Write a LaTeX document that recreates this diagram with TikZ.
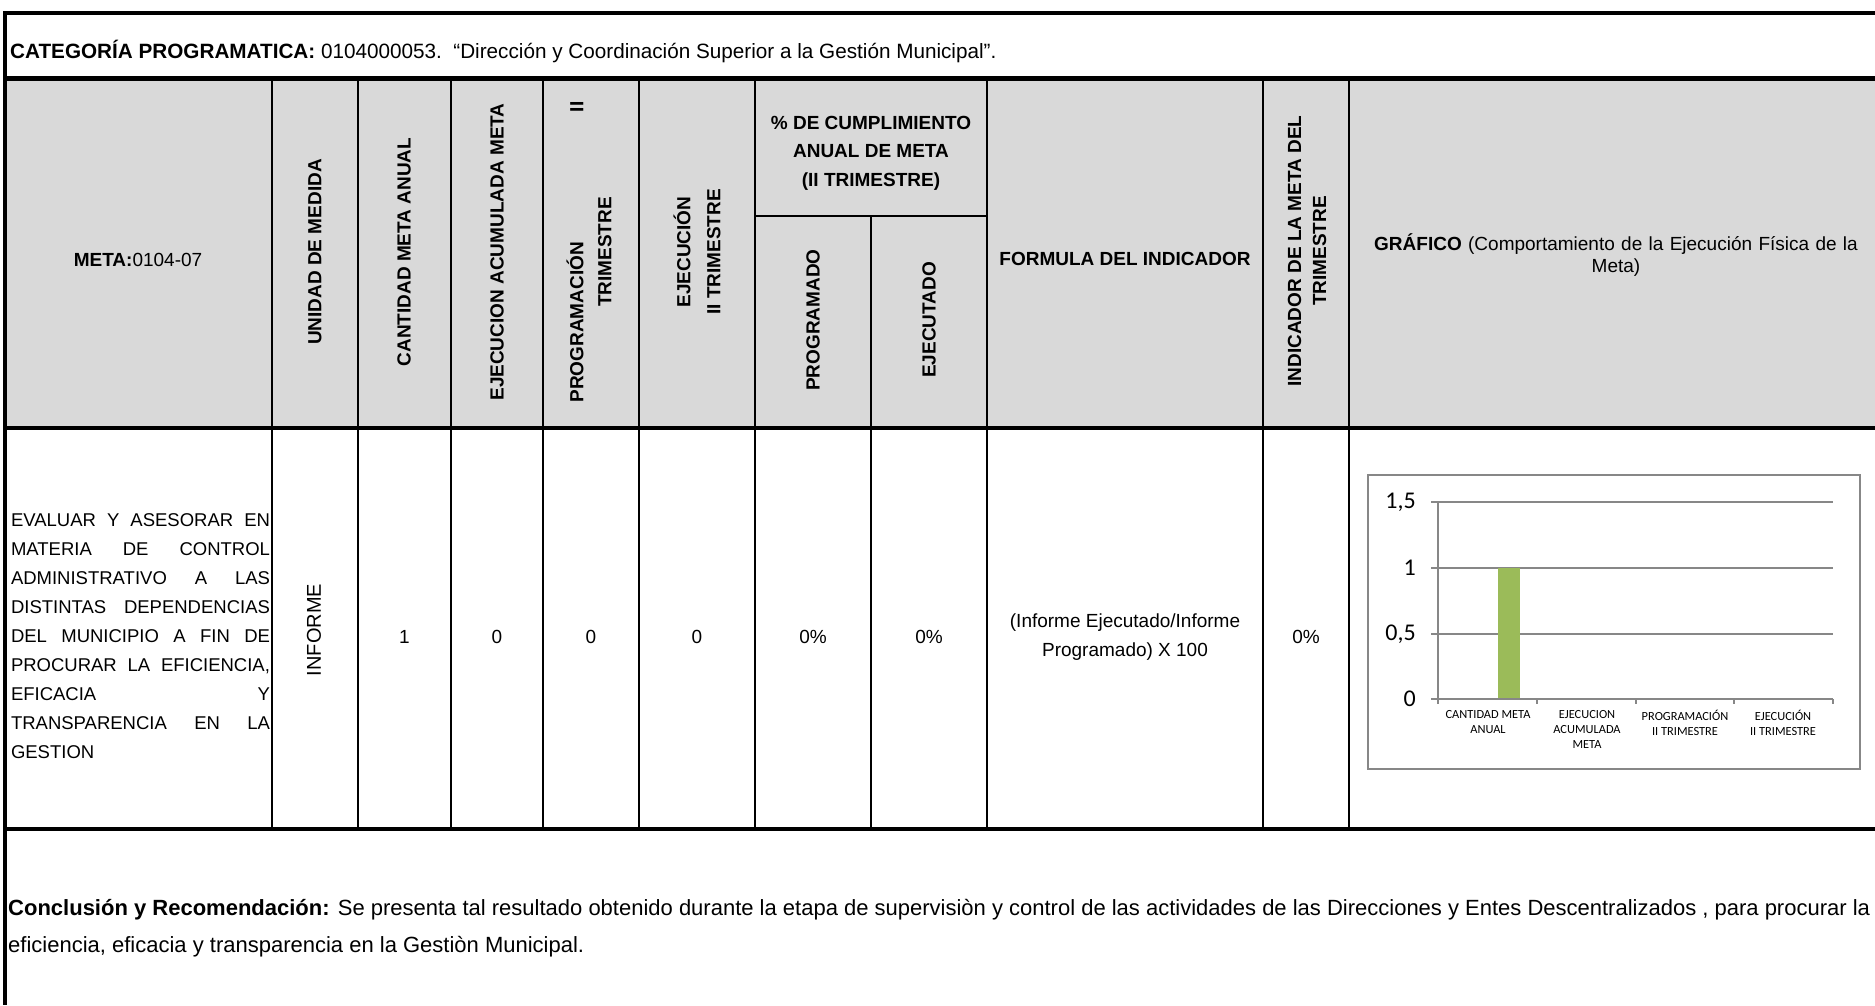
\documentclass[tikz,border=0pt]{standalone}
\usepackage{fontspec}
\setmainfont{Liberation Sans}
\newfontfamily\chartfont{Carlito}
\definecolor{hdrgray}{HTML}{D9D9D9}
\definecolor{chartgray}{HTML}{878787}
\definecolor{bargreen}{HTML}{9BBB59}
\tikzset{
  frameline/.style={line width=4.5pt},
  cellline/.style={line width=2pt},
  hdrtxt/.style={font=\bfseries\fontsize{19}{28.5}\selectfont, inner sep=0pt, align=center},
  rothdr/.style={hdrtxt, rotate=90},
  valtxt/.style={font=\fontsize{19}{29}\selectfont, inner sep=0pt, align=center},
  gridln/.style={draw=chartgray, line width=1.4pt},
  ylab/.style={font=\chartfont\fontsize{24}{24}\selectfont, anchor=east, inner sep=0pt},
  xlab/.style={font=\chartfont\fontsize{12.4}{15.3}\selectfont, align=center, inner sep=0pt, anchor=north},
  conc/.style={font=\fontsize{22}{30}\selectfont, anchor=west, inner sep=0pt},
}
\begin{document}
\begin{tikzpicture}[x=1pt,y=-1pt]
\useasboundingbox (0,0) rectangle (1875,1005);
\fill[white] (0,0) rectangle (1875,1005);
% header fill
\fill[hdrgray] (5,80) rectangle (1875,428);

% vertical cell lines
\foreach \cx in {272,358,451,543,639,755,987,1263,1349}
  \draw[cellline] (\cx,80) -- (\cx,829);
\draw[cellline] (871,216) -- (871,829);
\draw[cellline] (755,216) -- (987,216);

% thick frame lines
\draw[frameline] (3,13) -- (1875,13);
\draw[frameline] (3,78.5) -- (1875,78.5);
\draw[frameline] (3,428) -- (1875,428);
\draw[frameline] (3,829) -- (1875,829);
\draw[frameline] (5,11) -- (5,1005);

% category row
\node[font=\fontsize{20.7}{22}\selectfont, anchor=west, inner sep=0pt] (cat) at (10,51)
  {\textbf{CATEGORÍA PROGRAMATICA:} 0104000053.\ \ “Dirección y Coordinación Superior a la Gestión Municipal”.};

% header row
\node[hdrtxt] (meta) at (138,260) {META:\mdseries 0104-07};
\node[rothdr] (unidad) at (315,252) {UNIDAD DE MEDIDA};
\node[rothdr] (cantidad) at (404,252) {CANTIDAD META ANUAL};
\node[rothdr] (ejacum) at (497,252) {EJECUCION ACUMULADA META};
\node[rothdr, font=\bfseries\fontsize{19}{28}\selectfont] (progtri) at (589,252)
  {\makebox[301pt]{PROGRAMACIÓN\hfill II}\\TRIMESTRE};
\node[rothdr, font=\bfseries\fontsize{19}{30}\selectfont] (ejectri) at (697,252) {EJECUCIÓN\\II TRIMESTRE};
\node[hdrtxt] (cumpl) at (871,153) {\% DE CUMPLIMIENTO\\ANUAL DE META\\(II TRIMESTRE)};
\node[rothdr] (programado) at (813,320) {PROGRAMADO};
\node[rothdr] (ejecutado) at (929,320) {EJECUTADO};
\node[hdrtxt] (formula) at (1125,259) {FORMULA DEL INDICADOR};
\node[rothdr, font=\bfseries\fontsize{19}{25}\selectfont] (indicador) at (1307,251) {INDICADOR DE LA META DEL\\TRIMESTRE};
\node[hdrtxt, font=\fontsize{19}{22}\selectfont, text width=534pt] (grafico) at (1616,255)
  {\textbf{GRÁFICO} (Comportamiento de la Ejecución Física de la\\Meta)};

% data row
\node[font=\fontsize{18.5}{29}\selectfont, inner sep=0pt, align=left] (desc) at (140.5,636) {%
\makebox[259pt][s]{EVALUAR Y ASESORAR EN}\\
\makebox[259pt][s]{MATERIA DE CONTROL}\\
\makebox[259pt][s]{ADMINISTRATIVO A LAS}\\
\makebox[259pt][s]{DISTINTAS DEPENDENCIAS}\\
\makebox[259pt][s]{DEL MUNICIPIO A FIN DE}\\
\makebox[259pt][s]{PROCURAR LA EFICIENCIA,}\\
\makebox[259pt][s]{EFICACIA\hfill Y}\\
\makebox[259pt][s]{TRANSPARENCIA EN LA}\\
\makebox[259pt][l]{GESTION}};
\node[valtxt, rotate=90, font=\fontsize{20}{24}\selectfont] (informe) at (314,630) {INFORME};
\node[valtxt] (v1) at (404.5,637) {1};
\node[valtxt] (v2) at (497,637) {0};
\node[valtxt] (v3) at (591,637) {0};
\node[valtxt] (v4) at (697,637) {0};
\node[valtxt] (v5) at (813,637) {0\%};
\node[valtxt] (v6) at (929,637) {0\%};
\node[valtxt] (v7) at (1125,637) {(Informe Ejecutado/Informe\\Programado) X 100};
\node[valtxt] (v8) at (1306,637) {0\%};

% chart
\draw[chartgray, line width=1.5pt] (1368,475) rectangle (1860,769);
\foreach \gy in {502,568,634}
  \draw[gridln] (1431,\gy) -- (1833,\gy);
\fill[bargreen] (1498,568) rectangle (1520,699);
\draw[gridln] (1438,502) -- (1438,704);
\draw[gridln] (1431,699) -- (1833,699);
\foreach \tx in {1537,1636,1734,1833}
  \draw[gridln] (\tx,699) -- (\tx,704);
\node[ylab] (y15) at (1416,502) {1,5};
\node[ylab] (y10) at (1416,568) {1};
\node[ylab] (y05) at (1416,634) {0,5};
\node[ylab] (y00) at (1416,699) {0};
\node[xlab] (c1) at (1488,710) {CANTIDAD META\\ANUAL};
\node[xlab] (c2) at (1587,710) {EJECUCION\\ACUMULADA\\META};
\node[xlab] (c3) at (1685,710) {PROGRAMACIÓN\\II TRIMESTRE};
\node[xlab] (c4) at (1783,710) {EJECUCIÓN\\II TRIMESTRE};

% conclusion
\node[conc] (conc1) at (8,910) {\textbf{Conclusión y Recomendación:} Se presenta tal resultado obtenido durante la etapa de supervisiòn y control de las actividades de las Direcciones y Entes Descentralizados , para procurar la};
\node[conc] (conc2) at (8,947) {eficiencia, eficacia y transparencia en la Gestiòn Municipal.};
\end{tikzpicture}
\end{document}
